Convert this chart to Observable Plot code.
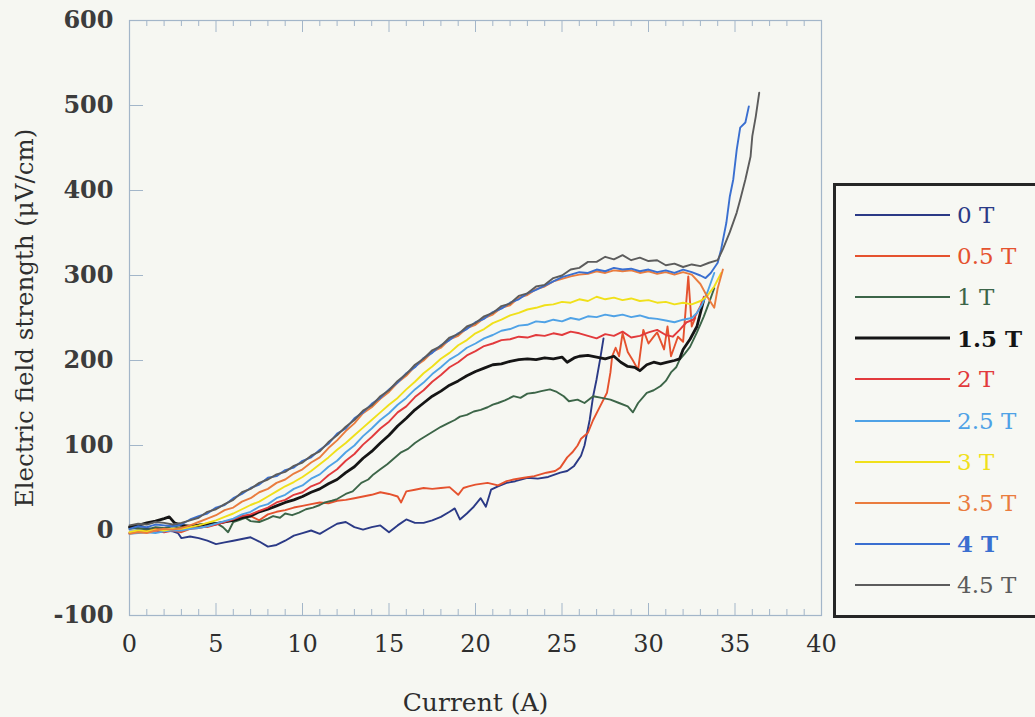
<!DOCTYPE html>
<html>
<head>
<meta charset="utf-8">
<script src="https://cdn.jsdelivr.net/npm/d3@7"></script>
<script src="https://cdn.jsdelivr.net/npm/@observablehq/plot@0.6"></script>
<style>
  html, body { margin: 0; padding: 0; background: #f6f7f2; overflow: hidden; }
  #wrap { position: relative; width: 1035px; height: 717px; }
  #legend { position: absolute; left: 833px; top: 183px; width: 230px; height: 435px;
            border: 3px solid #262626; box-sizing: border-box; background: #f7f8f3;
            font-family: "DejaVu Serif", serif; font-size: 23px; }
  .row { position: absolute; left: 0; height: 30px; display: flex; align-items: center; }
  .row svg { margin-left: 19px; }
  .row span { margin-left: 7px; white-space: nowrap; }
</style>
</head>
<body>
<div id="wrap"><div id="chart"></div><div id="legend"></div></div>
<script>
// ---- Series names & colours ----
const seriesNames = ["0 T", "0.5 T", "1 T", "1.5 T", "2 T", "2.5 T", "3 T", "3.5 T", "4 T", "4.5 T"];
const seriesColors = ["#2b3a86", "#e5522e", "#3c6548", "#151515", "#e23a3c", "#4fa2e6", "#f0e01a", "#ea7c3e", "#3a6fd0", "#5c5c5c"];
const boldNames = ["1.5 T", "4 T"];

// ---- Axis ticks ----
const xTickValues = [0, 5, 10, 15, 20, 25, 30, 35, 40];
const yTickValues = [-100, 0, 100, 200, 300, 400, 500, 600];

// ---- Data: [current (A), electric field (µV/cm)] ----
const s0T = [[0,4],[0.5,2],[1,3],[1.5,1],[2,0],[2.5,-1],[2.8,-3],[3,-9],[3.5,-7],[4,-9],[4.5,-12],[5,-16],[5.5,-14],[6,-12],[6.5,-10],[7,-8],[7.5,-13],[8,-19],[8.5,-17],[9,-12],[9.5,-6],[10,-3],[10.5,0],[11,-4],[11.5,2],[12,8],[12.5,10],[13,4],[13.5,1],[14,4],[14.5,6],[15,-2],[15.5,6],[16,13],[16.5,9],[17,9],[17.5,12],[18,16],[18.5,22],[18.8,26],[19.1,13],[19.5,20],[19.9,28],[20.3,38],[20.6,28],[20.9,48],[21.3,52],[21.8,56],[22.3,58],[23,62],[23.6,61],[24.2,63],[24.9,68],[25.3,70],[25.7,76],[26.1,88],[26.3,100],[26.6,130],[26.8,158],[27,178],[27.2,201],[27.4,226]];
const s05T = [[0,-3],[0.5,-2],[1,0],[1.5,2],[2,1],[2.5,0],[3,-2],[3.5,2],[4,5],[4.5,4],[5,7],[5.5,10],[6,13],[6.5,16],[7,17],[7.5,12],[8,19],[8.5,22],[9,24],[9.5,27],[10,29],[10.5,31],[11,33],[11.5,32],[12,35],[12.5,36],[13,38],[13.5,40],[14,42],[14.5,45],[15,43],[15.5,40],[15.7,33],[16,46],[16.5,48],[17,50],[17.5,49],[18,50],[18.5,51],[19,42],[19.3,50],[19.6,52],[20,54],[20.7,56],[21.3,53],[21.8,58],[22.2,60],[22.8,62],[23.4,64],[24.1,68],[24.6,70],[24.9,74],[25.3,86],[25.6,92],[25.9,100],[26.1,108],[26.5,115],[26.8,130],[27.2,146],[27.6,162],[27.8,186],[27.9,205],[28.1,215],[28.3,205],[28.5,232],[28.8,210],[29.1,200],[29.4,189],[29.7,236],[30,220],[30.3,228],[30.5,233],[30.9,213],[31.1,240],[31.3,205],[31.7,228],[32,222],[32.3,299],[32.5,240],[32.7,250]];
const s1T = [[0,2],[0.5,3],[1,1],[1.5,4],[2,3],[2.5,5],[3,3],[3.6,5],[4,7],[4.5,8],[5,9],[5.4,4],[5.7,-2],[6,10],[6.3,12],[6.7,15],[7,11],[7.5,10],[8,14],[8.3,17],[8.7,15],[9,20],[9.4,18],[9.8,21],[10.2,25],[10.6,27],[11,30],[11.3,33],[11.7,35],[12,37],[12.5,43],[12.9,46],[13.4,56],[13.8,60],[14.1,66],[14.5,72],[14.9,78],[15.3,85],[15.7,92],[16.1,96],[16.5,103],[16.8,107],[17.2,112],[17.6,117],[18,122],[18.4,126],[18.8,130],[19.1,134],[19.5,136],[19.9,140],[20.3,142],[20.7,145],[21,148],[21.3,150],[21.7,153],[22.2,158],[22.6,156],[23,161],[23.4,162],[23.8,164],[24.3,166],[24.7,163],[25.1,158],[25.4,152],[25.9,154],[26.3,150],[26.8,158],[27.3,156],[27.8,154],[28.3,150],[28.8,146],[29.1,139],[29.4,150],[29.9,162],[30.3,165],[30.7,170],[31,176],[31.3,186],[31.6,192],[31.8,201],[32.1,208],[32.4,216],[32.8,233],[33.2,252],[33.5,268],[33.8,285]];
const s15T = [[0,4],[0.5,6],[1,9],[1.5,11],[2,14],[2.3,16],[2.6,9],[3,6],[3.5,5],[4,6],[4.5,7],[5,8],[5.5,10],[6,12],[6.5,15],[7,17],[7.5,22],[8,25],[8.5,29],[9,33],[9.5,36],[10,40],[10.5,45],[11,49],[11.5,55],[12,60],[12.5,68],[13,75],[13.5,85],[14,93],[14.5,103],[15,112],[15.5,123],[16,132],[16.5,142],[17,150],[17.5,158],[18,164],[18.5,171],[19,176],[19.5,182],[20,187],[20.5,191],[21,195],[21.5,196],[22,199],[22.5,201],[23,202],[23.5,201],[24,203],[24.5,202],[25,204],[25.3,198],[25.7,203],[26,205],[26.5,206],[27,204],[27.5,202],[28,205],[28.4,198],[28.8,193],[29.2,192],[29.5,188],[29.9,195],[30.3,198],[30.7,196],[31.1,198],[31.5,200],[31.8,202],[32,213],[32.4,225],[32.8,240],[33,256],[33.2,272]];
const s2T = [[0,-3],[0.5,-2],[1,-1],[1.5,0],[2,-2],[2.5,0],[3,1],[3.5,2],[4,3],[4.5,5],[5,7],[5.5,10],[6,13],[6.5,17],[7,19],[7.5,23],[8,27],[8.5,33],[9,36],[9.5,42],[10,45],[10.5,52],[11,56],[11.5,65],[12,72],[12.5,82],[13,90],[13.5,101],[14,110],[14.5,120],[15,128],[15.5,139],[16,146],[16.5,157],[17,165],[17.5,175],[18,183],[18.5,192],[19,198],[19.5,206],[20,211],[20.5,217],[21,220],[21.5,224],[22,225],[22.5,228],[23,227],[23.5,230],[24,229],[24.5,232],[25,230],[25.5,234],[26,232],[26.5,229],[27,226],[27.5,231],[28,229],[28.5,234],[29,227],[29.5,229],[30,233],[30.5,236],[31,230],[31.4,228],[31.8,236],[32.2,245],[32.6,248],[33,264],[33.2,275]];
const s25T = [[0,-4],[0.5,-3],[1,-2],[1.5,-3],[2,-1],[2.5,0],[3,0],[3.5,2],[4,3],[4.5,5],[5,8],[5.5,11],[6,14],[6.5,19],[7,22],[7.5,28],[8,31],[8.5,38],[9,42],[9.5,49],[10,53],[10.5,61],[11,66],[11.5,75],[12,82],[12.5,92],[13,100],[13.5,111],[14,120],[14.5,130],[15,138],[15.5,148],[16,156],[16.5,166],[17,174],[17.5,184],[18,192],[18.5,201],[19,207],[19.5,215],[20,220],[20.5,226],[21,230],[21.5,235],[22,237],[22.5,241],[23,242],[23.5,246],[24,245],[24.5,248],[25,246],[25.5,250],[26,248],[26.5,252],[27,251],[27.5,254],[28,252],[28.5,254],[29,251],[29.5,253],[30,250],[30.5,249],[31,247],[31.5,245],[32,248],[32.5,250],[32.8,256],[33.1,266],[33.4,280],[33.8,303]];
const s3T = [[0,-2],[0.5,0],[1,-1],[1.5,1],[2,0],[2.5,2],[3,2],[3.5,4],[4,6],[4.5,9],[5,12],[5.5,16],[6,20],[6.5,25],[7,30],[7.5,34],[8,40],[8.5,46],[9,52],[9.5,57],[10,63],[10.5,70],[11,78],[11.5,86],[12,95],[12.5,103],[13,112],[13.5,121],[14,130],[14.5,139],[15,148],[15.5,156],[16,166],[16.5,175],[17,185],[17.5,193],[18,202],[18.5,209],[19,218],[19.5,224],[20,232],[20.5,237],[21,244],[21.5,248],[22,253],[22.5,256],[23,260],[23.5,262],[24,265],[24.5,266],[25,269],[25.5,268],[26,272],[26.5,270],[27,275],[27.5,272],[28,274],[28.5,271],[29,273],[29.5,270],[30,271],[30.5,268],[31,269],[31.5,266],[32,268],[32.5,266],[33,270],[33.4,276],[33.8,287],[34.2,303]];
const s35T = [[0,-4],[0.5,-2],[1,-3],[1.5,0],[2,2],[2.5,1],[3,3],[3.5,6],[4,10],[4.5,14],[5,18],[5.5,24],[6,27],[6.5,34],[7,38],[7.5,45],[8,49],[8.5,56],[9,60],[9.5,67],[10,72],[10.5,80],[11,86],[11.5,97],[12,106],[12.5,117],[13,126],[13.5,138],[14,145],[14.5,155],[15,163],[15.5,174],[16,182],[16.5,193],[17,200],[17.5,210],[18,215],[18.5,225],[19,229],[19.5,238],[20,242],[20.5,250],[21,254],[21.5,262],[22,265],[22.5,274],[23,277],[23.5,284],[24,287],[24.5,293],[25,296],[25.5,299],[26,301],[26.5,302],[27,305],[27.5,303],[28,306],[28.5,305],[29,306],[29.5,303],[30,305],[30.5,302],[31,304],[31.5,301],[32,304],[32.5,301],[33,290],[33.4,275],[33.8,262],[34,285],[34.3,307]];
const s4T = [[0,2],[0.5,5],[1,4],[1.5,7],[2,6],[2.5,5],[3,7],[3.5,13],[4,17],[4.5,20],[5,27],[5.5,30],[6,38],[6.5,43],[7,50],[7.5,54],[8,62],[8.5,64],[9,71],[9.5,74],[10,82],[10.5,86],[11,95],[11.5,102],[12,114],[12.5,120],[13,132],[13.5,139],[14,149],[14.5,156],[15,166],[15.5,174],[16,185],[16.5,192],[17,203],[17.5,209],[18,218],[18.5,224],[19,232],[19.5,237],[20,245],[20.5,249],[21,257],[21.5,261],[22,268],[22.5,272],[23,279],[23.5,283],[24,288],[24.5,293],[25,298],[25.5,301],[26,304],[26.5,303],[27,307],[27.5,305],[28,309],[28.5,307],[29,308],[29.5,305],[30,307],[30.5,304],[31,306],[31.5,303],[32,307],[32.5,304],[33,300],[33.3,297],[33.6,303],[34,315],[34.2,331],[34.5,362],[34.7,393],[34.9,413],[35.1,448],[35.3,474],[35.6,480],[35.8,499]];
const s45T = [[0,6],[0.5,8],[1,7],[1.5,10],[2,9],[2.5,7],[3,9],[3.5,12],[4,15],[4.5,22],[5,25],[5.5,31],[6,36],[6.5,45],[7,49],[7.5,56],[8,60],[8.5,66],[9,69],[9.5,76],[10,80],[10.5,88],[11,93],[11.5,104],[12,112],[12.5,122],[13,130],[13.5,141],[14,147],[14.5,158],[15,165],[15.5,176],[16,184],[16.5,195],[17,202],[17.5,212],[18,217],[18.5,227],[19,231],[19.5,240],[20,244],[20.5,252],[21,256],[21.5,264],[22,267],[22.5,276],[23,279],[23.5,287],[24,289],[24.5,297],[25,300],[25.5,307],[26,309],[26.5,316],[27,316],[27.5,322],[28,319],[28.5,324],[29,318],[29.5,321],[30,317],[30.5,318],[31,312],[31.5,314],[32,310],[32.5,313],[33,311],[33.5,315],[34,318],[34.3,331],[34.7,351],[35.1,374],[35.3,389],[35.6,413],[35.9,440],[36,464],[36.2,487],[36.4,515]];

const seriesData = [s0T, s05T, s1T, s15T, s2T, s25T, s3T, s35T, s4T, s45T];

const rows = seriesData.flatMap((pts, i) =>
  pts.map(([current, field]) => ({ current, field, series: seriesNames[i] })));

const W = 1035, H = 717, mL = 129, mR = 214, mT = 20, mB = 102;
const plotW = W - mL - mR, plotH = H - mT - mB;
const xMinor = d3.range(1, 40).filter(v => v % 5 !== 0);
const xMajorInner = xTickValues.filter(v => v > 0 && v < 40);
const yMajorInner = yTickValues.filter(v => v > -100 && v < 600);
const frameColor = "#a3b6c9";

const lineMarks = seriesNames.map((name, i) =>
  Plot.line(rows.filter(d => d.series === name), {
    x: "current", y: "field",
    stroke: seriesColors[i],
    strokeWidth: name === "1.5 T" ? 2.8 : 1.9,
    strokeLinejoin: "round"
  }));

const chart = Plot.plot({
  width: W, height: H,
  marginLeft: mL, marginRight: mR, marginTop: mT, marginBottom: mB,
  style: { background: "transparent", fontFamily: "DejaVu Serif, serif", color: "#333" },
  x: { domain: [0, 40] },
  y: { domain: [-100, 600] },
  marks: [
    Plot.frame({ stroke: frameColor, strokeWidth: 1.2 }),
    // bottom minor & major ticks (inward)
    Plot.ruleX(xMinor, { stroke: frameColor, insetTop: plotH - 6 }),
    Plot.ruleX(xMajorInner, { stroke: frameColor, insetTop: plotH - 12 }),
    // top minor & major ticks (inward)
    Plot.ruleX(xMinor, { stroke: frameColor, insetBottom: plotH - 6 }),
    Plot.ruleX(xMajorInner, { stroke: frameColor, insetBottom: plotH - 12 }),
    // left major ticks (inward)
    Plot.ruleY(yMajorInner, { stroke: frameColor, insetRight: plotW - 14 }),
    Plot.axisX(xTickValues, { label: null, tickSize: 0, tickPadding: 19, fontSize: 24, fill: "#2e2e2e" }),
    Plot.axisY(yTickValues, { label: null, tickSize: 0, tickPadding: 16, fontSize: 24, fontWeight: "bold", fill: "#3c3c3c", tickFormat: d => d < 0 ? "-" + Math.abs(d) : String(d) }),
    Plot.text(["Current (A)"], { frameAnchor: "bottom", dy: 95, fontSize: 25, fill: "#2e2e2e" }),
    Plot.text(["Electric field strength (\u03bcV/cm)"], { frameAnchor: "left", dx: -104, rotate: -90, textAnchor: "middle", fontSize: 24.5, fill: "#2e2e2e" }),
    ...lineMarks
  ]
});
document.getElementById("chart").appendChild(chart);

// ---- Legend ----
const legend = document.getElementById("legend");
seriesNames.forEach((name, i) => {
  const row = document.createElement("div");
  row.className = "row";
  row.style.top = (14 + i * 41.1) + "px";
  row.innerHTML = `<svg width="95" height="6"><line x1="0" y1="3" x2="95" y2="3" stroke="${seriesColors[i]}" stroke-width="${name === "1.5 T" ? 3 : 2.2}"/></svg>` +
    `<span style="color:${seriesColors[i]};font-weight:${boldNames.includes(name) ? "bold" : "normal"}">${name}</span>`;
  legend.appendChild(row);
});
</script>
</body>
</html>
